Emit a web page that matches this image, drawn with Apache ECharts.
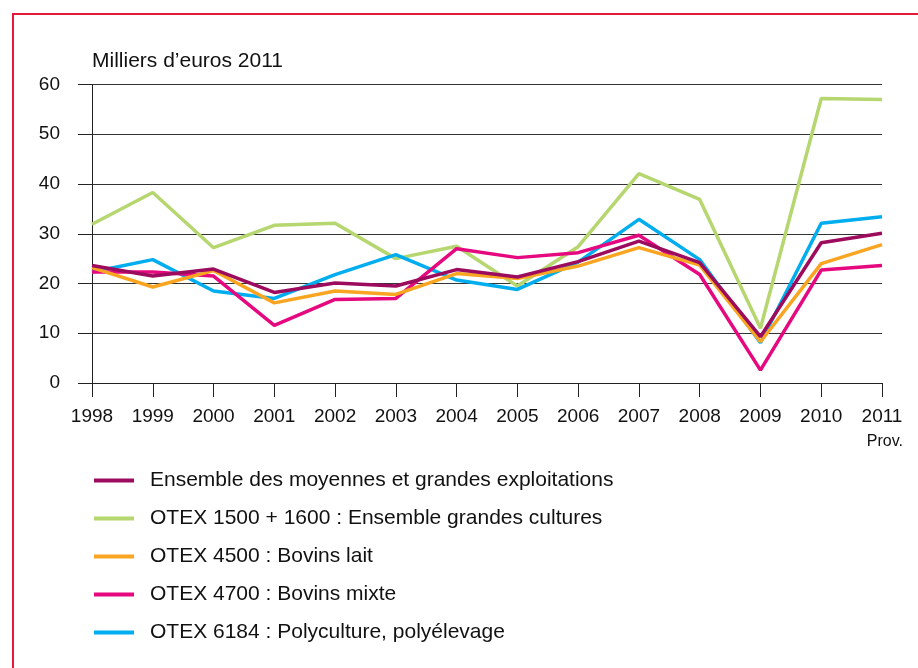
<!DOCTYPE html>
<html>
<head>
<meta charset="utf-8">
<script src="https://cdn.jsdelivr.net/npm/echarts@6/dist/echarts.min.js"></script>
<style>
  html, body { margin: 0; padding: 0; background: #fff; }
  #chart { width: 918px; height: 668px; }
</style>
</head>
<body>
<div id="chart"></div>
<script>
var years = ["1998", "1999", "2000", "2001", "2002", "2003", "2004", "2005", "2006", "2007", "2008", "2009", "2010", "2011"];

var ensemble = [23.6, 21.5, 22.9, 18.2, 20.1, 19.5, 22.8, 21.3, 24.4, 28.5, 24.2, 9.3, 28.2, 30.1];
var grandesCultures = [31.9, 38.3, 27.2, 31.7, 32.1, 25.0, 27.5, 19.5, 27.4, 42.1, 36.9, 11.0, 57.2, 57.0];
var bovinsLait = [23.2, 19.3, 22.6, 16.1, 18.5, 17.8, 22.0, 21.0, 23.5, 27.2, 23.7, 8.3, 24.0, 27.8];
var bovinsMixte = [22.3, 22.3, 21.5, 11.6, 16.8, 17.0, 27.0, 25.2, 26.2, 29.7, 21.8, 2.6, 22.7, 23.6];
var polyculture = [22.3, 24.8, 18.5, 17.0, 21.8, 25.8, 20.7, 18.8, 24.3, 32.9, 24.8, 8.1, 32.1, 33.4];

var names = [
  "Ensemble des moyennes et grandes exploitations",
  "OTEX 1500 + 1600 : Ensemble grandes cultures",
  "OTEX 4500 : Bovins lait",
  "OTEX 4700 : Bovins mixte",
  "OTEX 6184 : Polyculture, polyélevage"
];

var chart = echarts.init(document.getElementById("chart"));

function line(name, data, color) {
  return {
    name: name,
    type: "line",
    data: data,
    symbol: "none",
    color: color,
    lineStyle: { width: 3.5, color: color },
    animation: false
  };
}

var option = {
  textStyle: { fontFamily: "Liberation Sans" },
  // cadre rouge
  graphic: [
    {
      type: "rect",
      shape: { x: 13, y: 14, width: 1000, height: 1000 },
      style: { fill: "none", stroke: "#e8173c", lineWidth: 2 }
    },
    {
      type: "text",
      left: 92,
      top: 51,
      style: { text: "Milliers d’euros 2011", fontSize: 21, fill: "#111", fontFamily: "Liberation Sans" }
    },
    {
      type: "text",
      right: 15,
      top: 434,
      style: { text: "Prov.", fontSize: 16, fill: "#111", fontFamily: "Liberation Sans" }
    }
  ],
  grid: { left: 92, right: 36, top: 84.5, bottom: 285 },
  legend: {
    orient: "vertical",
    left: 89,
    top: 465,
    data: names,
    icon: "rect",
    itemWidth: 40,
    itemHeight: 4,
    itemGap: 17,
    textStyle: { fontSize: 21, color: "#111", lineHeight: 20, padding: [0, 0, 0, 11] }
  },
  xAxis: {
    type: "category",
    data: years,
    boundaryGap: false,
    axisLine: { lineStyle: { color: "#222", width: 1 } },
    axisTick: { show: true, length: 14, lineStyle: { color: "#222" } },
    axisLabel: { fontSize: 19, color: "#111", margin: 24 }
  },
  yAxis: {
    type: "value",
    min: 0,
    max: 60,
    interval: 10,
    axisLine: { show: true, lineStyle: { color: "#222", width: 1 } },
    axisTick: { show: true, length: 14, lineStyle: { color: "#222" } },
    axisLabel: { fontSize: 19, color: "#111", margin: 32 },
    splitLine: { lineStyle: { color: "#333", width: 1 } }
  },
  series: [
    line(names[1], grandesCultures, "#b6d66f"),
    line(names[4], polyculture, "#00aeef"),
    line(names[3], bovinsMixte, "#e6087f"),
    line(names[2], bovinsLait, "#f9a521"),
    line(names[0], ensemble, "#9c0b5e")
  ]
};

chart.setOption(option);
</script>
</body>
</html>
